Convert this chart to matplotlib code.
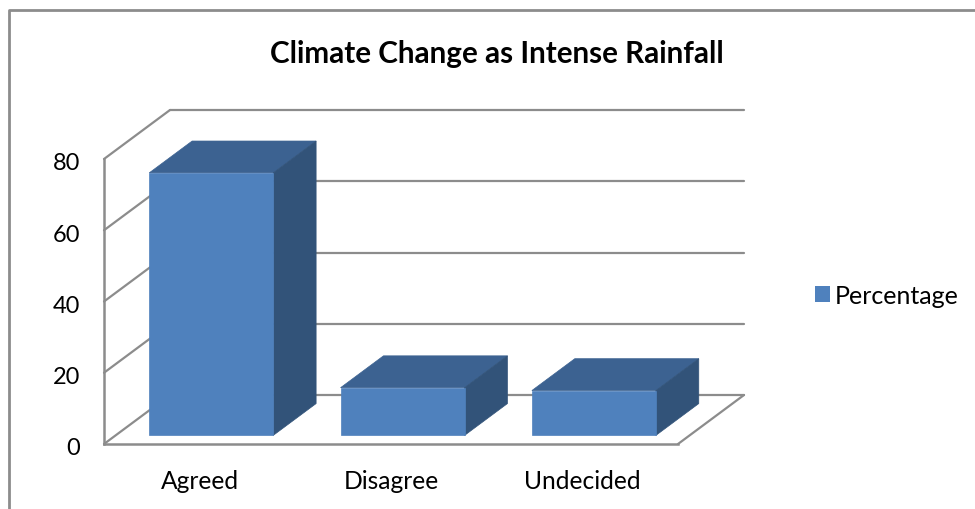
import matplotlib
matplotlib.use('Agg')
import matplotlib.pyplot as plt
from matplotlib.lines import Line2D
from matplotlib.patches import Patch, Polygon
from matplotlib.transforms import Affine2D, IdentityTransform

categories = ['Agreed', 'Disagree', 'Undecided']
percentages = [73.7, 13.4, 12.6]
y_ticks = [0, 20, 40, 60, 80]
series_name = 'Percentage'
title = 'Climate Change as Intense Rainfall'

plt.rcParams['font.family'] = ['Lato', 'DejaVu Sans']

GRID = '#8c8c8c'
FRONT = '#4f81bd'
TOP = '#3c6291'
SIDE = '#325379'

# how far the back wall sits from the front plane, in pixels
DEPTH_X = 66
DEPTH_Y = 49
# bar position inside the floor depth (0 front, 1 back)
BAR_D0 = 0.175
BAR_D1 = 0.825
BAR_W = 0.648

fig = plt.figure(figsize=(9.75, 5.1), dpi=100)
ax = fig.add_axes([104 / 975, (510 - 445) / 510, 574 / 975, 285 / 510])
ax.set_xlim(-0.5, 2.5)
ax.set_ylim(0, 80)
ax.patch.set_visible(False)


def proj(x, y, d=0.0):
    px, py = ax.transData.transform((x, y))
    return px + d * DEPTH_X, py + d * DEPTH_Y


def line3d(a, b, lw=1.6):
    p, q = proj(*a), proj(*b)
    ax.add_line(Line2D([p[0], q[0]], [p[1], q[1]], transform=IdentityTransform(),
                       color=GRID, lw=lw, solid_capstyle='round', clip_on=False, zorder=1))


def face(points, color):
    ax.add_patch(Polygon([proj(*p) for p in points], closed=True, transform=IdentityTransform(),
                         facecolor=color, edgecolor=color, lw=0.5, clip_on=False, zorder=3))


# walls and floor
for t in y_ticks:
    line3d((-0.5, t, 0), (-0.5, t, 1))
    line3d((-0.5, t, 1), (2.5, t, 1))
line3d((2.5, 0, 0), (2.5, 0, 1))

# bars, drawn as three faces
for i, v in enumerate(percentages):
    x0, x1 = i - BAR_W / 2, i + BAR_W / 2
    face([(x0, v, BAR_D0), (x1, v, BAR_D0), (x1, v, BAR_D1), (x0, v, BAR_D1)], TOP)
    face([(x1, 0, BAR_D0), (x1, 0, BAR_D1), (x1, v, BAR_D1), (x1, v, BAR_D0)], SIDE)
    face([(x0, 0, BAR_D0), (x1, 0, BAR_D0), (x1, v, BAR_D0), (x0, v, BAR_D0)], FRONT)

for s in ['top', 'right']:
    ax.spines[s].set_visible(False)
for s in ['left', 'bottom']:
    ax.spines[s].set_color(GRID)
    ax.spines[s].set_linewidth(1.8)

ax.set_xticks(range(len(categories)))
ax.set_xticklabels(categories, fontsize=17.7)
ax.set_yticks(y_ticks)
ax.tick_params(axis='x', length=0, pad=18)
ax.tick_params(axis='y', length=0, pad=17, labelsize=17)
for lab in ax.get_yticklabels():
    lab.set_transform(lab.get_transform() + Affine2D().translate(0, -2))

fig.text(497 / 975, 1 - 54 / 510, title, ha='center', va='center', fontsize=21.3, fontweight='bold')

ax.legend(handles=[Patch(facecolor=FRONT, label=series_name)], loc='center left',
          bbox_to_anchor=(807 / 975, 1 - 296 / 510), bbox_transform=fig.transFigure,
          frameon=False, fontsize=18, handlelength=0.62, handleheight=0.62, handletextpad=0.2,
          borderpad=0, borderaxespad=0.3)

# outer chart frame, only left and top show in the crop
fig.add_artist(Line2D([8.5, 8.5, 975], [0, 499, 499], transform=IdentityTransform(),
                      color=GRID, lw=2))

fig.savefig('out.png', dpi=100)
